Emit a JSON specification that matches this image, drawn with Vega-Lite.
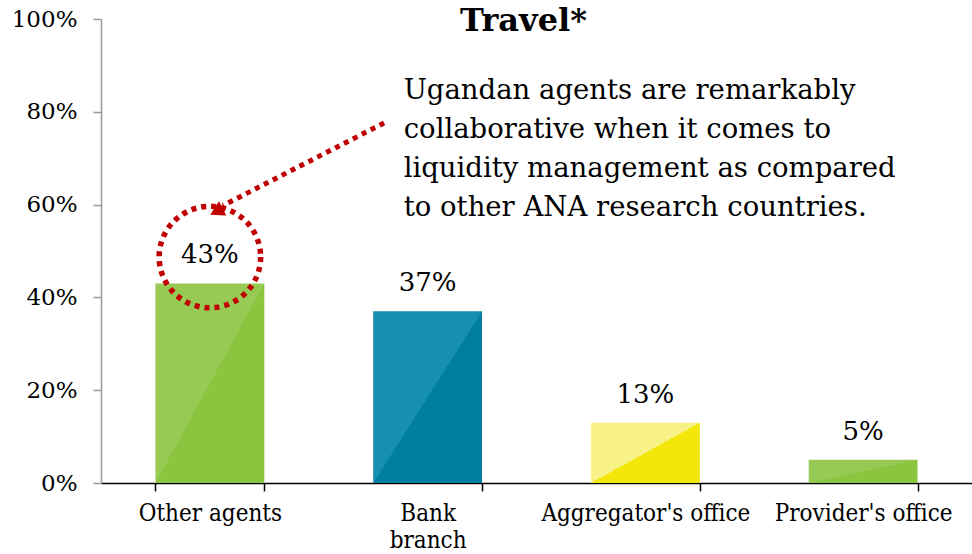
{
  "$schema": "https://vega.github.io/schema/vega-lite/v6.json",
  "autosize": {"type": "none"},
  "width": 871,
  "height": 464,
  "padding": {"left": 101, "top": 19, "right": 0, "bottom": 71},
  "background": "white",
  "config": {"view": {"stroke": null}, "font": "DejaVu Serif"},
  "datasets": {
    "bars": [
      {"channel": "Other agents", "share": 0.43},
      {"channel": "Bank branch", "share": 0.37},
      {"channel": "Aggregator's office", "share": 0.13},
      {"channel": "Provider's office", "share": 0.05}
    ],
    "arrow": [
      {"step": 1, "ax": 1.30, "ay": 0.776},
      {"step": 2, "ax": 0.56, "ay": 0.598}
    ],
    "head": [{"ax": 0.53, "ay": 0.585}],
    "circle": [{"channel": "Other agents", "cy": 0.487}],
    "heading": [{"ax": 1.94, "ay": 0.975, "txt": "Travel*"}],
    "note": [{"ax": 1.39, "ay": 0.876, "txt": "Ugandan agents are remarkably\ncollaborative when it comes to\nliquidity management as compared\nto other ANA research countries."}]
  },
  "layer": [
    {
      "data": {"name": "bars"},
      "layer": [
        {
          "mark": {"type": "bar"},
          "encoding": {
            "x": {"field": "channel", "type": "nominal", "sort": null,
              "scale": {"paddingInner": 0.5, "paddingOuter": 0.25},
              "axis": {"title": null, "labelAngle": 0, "labelFont": "DejaVu Serif Condensed", "labelFontSize": 24, "labelColor": "black", "labelPadding": 10, "labelLimit": 300,
                "labelExpr": "datum.label == 'Bank branch' ? ['Bank', 'branch'] : datum.label",
                "domainColor": "black", "domainWidth": 1.5, "tickColor": "black", "tickWidth": 1.5, "tickSize": 8, "tickBand": "extent", "labelLineHeight": 27}},
            "y": {"field": "share", "type": "quantitative",
              "scale": {"domain": [0, 1]},
              "axis": {"title": null, "format": ".0%", "values": [0, 0.2, 0.4, 0.6, 0.8, 1], "grid": false, "labelFont": "DejaVu Serif", "labelFontSize": 23, "labelColor": "black", "labelPadding": 16, "domainColor": "#999999", "domainWidth": 1.5, "tickColor": "#999999", "tickWidth": 1.5, "tickSize": 8}},
            "color": {
              "condition": [
                {"test": "datum.channel == 'Bank branch'", "value": {"gradient": "linear", "x1": 0, "y1": 0, "x2": 1, "y2": 1, "stops": [{"offset": 0, "color": "#168FB1"}, {"offset": 0.5, "color": "#168FB1"}, {"offset": 0.5, "color": "#007FA1"}, {"offset": 1, "color": "#007FA1"}]}},
                {"test": "datum.channel == \"Aggregator's office\"", "value": {"gradient": "linear", "x1": 0, "y1": 0, "x2": 1, "y2": 1, "stops": [{"offset": 0, "color": "#F8F186"}, {"offset": 0.5, "color": "#F8F186"}, {"offset": 0.5, "color": "#F2E60A"}, {"offset": 1, "color": "#F2E60A"}]}}
              ],
              "value": {"gradient": "linear", "x1": 0, "y1": 0, "x2": 1, "y2": 1, "stops": [{"offset": 0, "color": "#97CA55"}, {"offset": 0.5, "color": "#97CA55"}, {"offset": 0.5, "color": "#8BC43F"}, {"offset": 1, "color": "#8BC43F"}]}
            }
          }
        },
        {
          "mark": {"type": "text", "dy": -28, "fontSize": 26, "font": "DejaVu Serif", "color": "black"},
          "encoding": {
            "x": {"field": "channel", "type": "nominal", "sort": null},
            "y": {"field": "share", "type": "quantitative"},
            "text": {"field": "share", "type": "quantitative", "format": ".0%"}
          }
        },
        {
          "data": {"name": "circle"},
          "mark": {"type": "point", "shape": "circle", "filled": false, "size": 10300, "stroke": "#C00000", "strokeWidth": 5.5, "strokeDash": [5, 5], "opacity": 1},
          "encoding": {
            "x": {"field": "channel", "type": "nominal", "sort": null},
            "y": {"field": "cy", "type": "quantitative"}
          }
        }
      ]
    },
    {
      "layer": [
        {
          "data": {"name": "arrow"},
          "mark": {"type": "line", "color": "#C00000", "strokeWidth": 5, "strokeDash": [5, 5]},
          "encoding": {
            "x": {"field": "ax", "type": "quantitative", "scale": {"domain": [0, 4]}, "axis": null},
            "y": {"field": "ay", "type": "quantitative"},
            "order": {"field": "step"}
          }
        },
        {
          "data": {"name": "head"},
          "mark": {"type": "point", "shape": "triangle-up", "filled": true, "color": "#C00000", "size": 260, "angle": 243, "opacity": 1},
          "encoding": {
            "x": {"field": "ax", "type": "quantitative", "scale": {"domain": [0, 4]}, "axis": null},
            "y": {"field": "ay", "type": "quantitative"}
          }
        },
        {
          "data": {"name": "heading"},
          "mark": {"type": "text", "align": "center", "baseline": "alphabetic", "font": "DejaVu Serif", "fontSize": 32, "fontWeight": "bold", "color": "black"},
          "encoding": {
            "x": {"field": "ax", "type": "quantitative", "scale": {"domain": [0, 4]}, "axis": null},
            "y": {"field": "ay", "type": "quantitative"},
            "text": {"field": "txt"}
          }
        },
        {
          "data": {"name": "note"},
          "mark": {"type": "text", "align": "left", "baseline": "top", "font": "DejaVu Serif", "fontSize": 27.5, "lineHeight": 39, "lineBreak": "\n", "color": "black"},
          "encoding": {
            "x": {"field": "ax", "type": "quantitative", "scale": {"domain": [0, 4]}, "axis": null},
            "y": {"field": "ay", "type": "quantitative"},
            "text": {"field": "txt"}
          }
        }
      ]
    }
  ],
  "resolve": {"scale": {"x": "independent"}, "axis": {"x": "independent"}}
}
